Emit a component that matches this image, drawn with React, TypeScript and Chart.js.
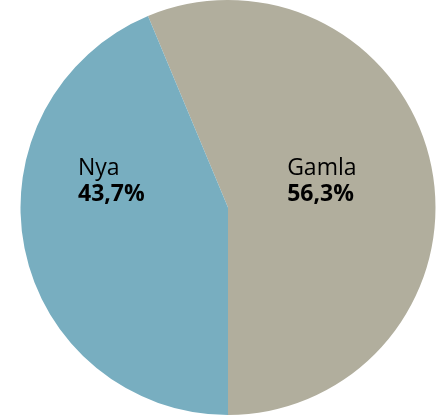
import React, { useEffect, useRef } from "react";
import { Chart, registerables } from "chart.js";

Chart.register(...registerables);

const categories = ["Gamla", "Nya"];
const values = [56.3, 43.7];
const valueLabels = ["56,3%", "43,7%"];
const colors = ["#b1ae9d", "#78aec0"];

const labelPlugin = {
  id: "sliceLabels",
  afterDatasetsDraw(chart: any) {
    const meta = chart.getDatasetMeta(0);
    const ctx = chart.ctx;
    const arc0 = meta.data[0];
    const cx = arc0.x;
    const cy = arc0.y;
    const r = arc0.outerRadius;
    // offsets relative to radius for each label
    const offs = [
      { dx: 0.285, dy: -0.157 },
      { dx: -0.723, dy: -0.157 },
    ];
    ctx.save();
    ctx.fillStyle = "#000";
    ctx.textAlign = "left";
    ctx.textBaseline = "alphabetic";
    categories.forEach((c, i) => {
      const x = cx + offs[i].dx * r;
      const y = cy + offs[i].dy * r;
      ctx.font = "23px 'Open Sans'";
      ctx.fillText(c, x, y);
      ctx.font = "bold 23px 'Open Sans'";
      ctx.fillText(valueLabels[i], x, y + 26);
    });
    ctx.restore();
  },
};

export default function App() {
  const ref = useRef<HTMLCanvasElement>(null);
  useEffect(() => {
    document.body.style.margin = "0";
    const chart = new Chart(ref.current!, {
      type: "pie",
      data: {
        labels: categories,
        datasets: [
          {
            data: values,
            backgroundColor: colors,
            borderWidth: 0,
          },
        ],
      },
      options: {
        animation: false,
        responsive: false,
        rotation: -22.68,
        layout: { padding: { left: 17 } },
        plugins: { legend: { display: false }, tooltip: { enabled: false } },
      },
      plugins: [labelPlugin],
    });
    return () => chart.destroy();
  }, []);
  return (
    <div style={{ width: 439, height: 415 }}>
      <canvas ref={ref} width={439} height={415} style={{ display: "block" }} />
    </div>
  );
}
